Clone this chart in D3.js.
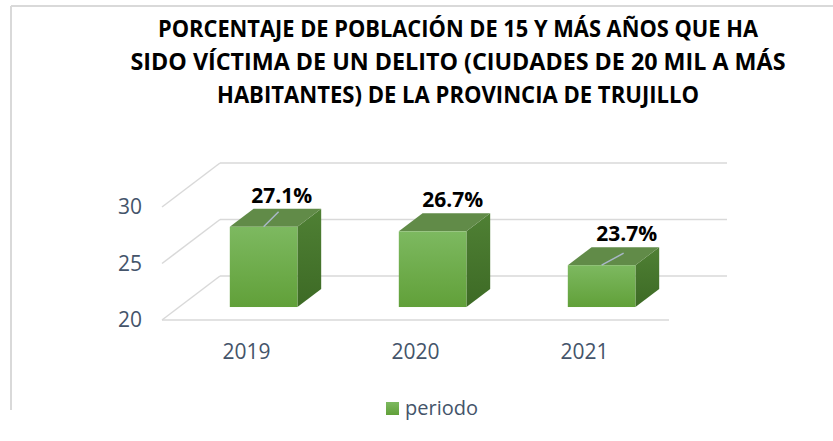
<!DOCTYPE html>
<html>
<head>
  <style type="text/css">
    body { margin: 0; background: #fff; }
    text { font-family: "Open Sans", sans-serif; }
    .grid line { stroke: #d9d9d9; stroke-width: 1.5px; }
    .axis text { fill: #44546a; font-size: 21px; }
  </style>
</head>
<body>
<svg></svg>
<script src="https://d3js.org/d3.v7.min.js"></script>
<script>
    var width = 833;
    var height = 441;

    /* data */
    var years = ['2019', '2020', '2021'];
    var values = [27.1, 26.7, 23.7];
    var yTicks = [20, 25, 30];
    var seriesName = 'periodo';
    var titleLines = [
      'PORCENTAJE DE POBLACIÓN DE 15 Y MÁS AÑOS QUE HA',
      'SIDO VÍCTIMA DE UN DELITO (CIUDADES DE 20 MIL A MÁS',
      'HABITANTES) DE LA PROVINCIA DE TRUJILLO'
    ];

    // depth of the 3d box and the bar slab inside it
    var depthX = 58, depthY = -44;
    var barD0 = 0.295, barD1 = 0.705;

    var svg = d3.select('svg')
      .attr('width', width)
      .attr('height', height);

    var defs = svg.append('defs');
    var gFront = defs.append('linearGradient').attr('id', 'front')
      .attr('x1', 0).attr('y1', 0).attr('x2', 0).attr('y2', 1);
    gFront.append('stop').attr('offset', '0%').attr('stop-color', '#7db960');
    gFront.append('stop').attr('offset', '100%').attr('stop-color', '#61a039');
    var gSide = defs.append('linearGradient').attr('id', 'side')
      .attr('x1', 0).attr('y1', 0).attr('x2', 0).attr('y2', 1);
    gSide.append('stop').attr('offset', '0%').attr('stop-color', '#4f8034');
    gSide.append('stop').attr('offset', '100%').attr('stop-color', '#3d6a25');

    // frame
    svg.append('line').attr('x1', 11).attr('y1', 6).attr('x2', width).attr('y2', 6)
      .attr('stroke', '#d9d9d9').attr('stroke-width', 2);
    svg.append('line').attr('x1', 11).attr('y1', 6).attr('x2', 11).attr('y2', 410)
      .attr('stroke', '#d9d9d9').attr('stroke-width', 2);

    // title
    var titleWidths = [600, 655, 482];
    svg.append('g').selectAll('text')
      .data(titleLines)
      .enter()
      .append('text')
      .attr('x', 458)
      .attr('y', function(d, i) { return 37 + i * 33; })
      .attr('text-anchor', 'middle')
      .attr('font-weight', 'bold')
      .attr('font-size', '23px')
      .attr('fill', '#000')
      .attr('textLength', function(d, i) { return titleWidths[i]; })
      .attr('lengthAdjust', 'spacingAndGlyphs')
      .text(function(d) { return d; });

    var x = d3.scaleBand()
      .domain(years)
      .range([162, 669])
      .paddingInner(0.6)
      .paddingOuter(0.3);
    var xCat = d3.scaleBand().domain(years).range([162, 669]);

    var y = d3.scaleLinear()
      .domain([20, 30])
      .range([320, 207]);

    // grid: back wall lines, left side lines, floor front
    var grid = svg.append('g').attr('class', 'grid');
    grid.selectAll('.back')
      .data(yTicks)
      .enter()
      .append('line')
      .attr('x1', 162 + depthX).attr('x2', 669 + depthX)
      .attr('y1', function(d) { return y(d) + depthY; })
      .attr('y2', function(d) { return y(d) + depthY; });
    grid.selectAll('.side')
      .data(yTicks)
      .enter()
      .append('line')
      .attr('x1', 162).attr('x2', 162 + depthX)
      .attr('y1', function(d) { return y(d); })
      .attr('y2', function(d) { return y(d) + depthY; });
    grid.append('line')
      .attr('x1', 162).attr('x2', 669)
      .attr('y1', y(20)).attr('y2', y(20));

    // y labels
    var yAxis = svg.append('g').attr('class', 'axis');
    yAxis.selectAll('text')
      .data(yTicks)
      .enter()
      .append('text')
      .attr('x', 142)
      .attr('y', function(d) { return y(d); })
      .attr('dy', '0.35em')
      .attr('text-anchor', 'end')
      .text(function(d) { return d; });

    // x labels
    var xAxis = svg.append('g').attr('class', 'axis');
    xAxis.selectAll('text')
      .data(years)
      .enter()
      .append('text')
      .attr('x', function(d) { return xCat(d) + xCat.bandwidth() / 2; })
      .attr('y', 352)
      .attr('dy', '0.35em')
      .attr('text-anchor', 'middle')
      .text(function(d) { return d; });

    // bars
    svg.append('g').selectAll('g')
      .data(years)
      .enter()
      .append('g')
      .each(function(d, i) {
        var g = d3.select(this);
        var fx = x(d) + depthX * barD0;
        var fy0 = y(20) + depthY * barD0;
        var fy1 = y(values[i]) + depthY * barD0;
        var w = x.bandwidth();
        var ddx = depthX * (barD1 - barD0);
        var ddy = depthY * (barD1 - barD0);
        // side
        g.append('path')
          .attr('d', 'M' + (fx + w) + ',' + fy1 + 'L' + (fx + w + ddx) + ',' + (fy1 + ddy) +
            'L' + (fx + w + ddx) + ',' + (fy0 + ddy) + 'L' + (fx + w) + ',' + fy0 + 'Z')
          .attr('fill', 'url(#side)');
        // top
        g.append('path')
          .attr('d', 'M' + fx + ',' + fy1 + 'L' + (fx + ddx) + ',' + (fy1 + ddy) +
            'L' + (fx + w + ddx) + ',' + (fy1 + ddy) + 'L' + (fx + w) + ',' + fy1 + 'Z')
          .attr('fill', '#618b48');
        // front
        g.append('rect')
          .attr('x', fx).attr('y', fy1)
          .attr('width', w).attr('height', fy0 - fy1)
          .attr('fill', 'url(#front)');
      });

    // value labels, with leader lines where nudged
    var labelNudge = [[15, -15, true], [20, -21, false], [22, -12, true]];
    years.forEach(function(d, i) {
      var cx = x(d) + depthX * barD0 + x.bandwidth() / 2;
      var ty = y(values[i]) + depthY * barD0;
      var n = labelNudge[i];
      if (n[2]) {
        svg.append('line')
          .attr('x1', cx).attr('y1', ty)
          .attr('x2', cx + n[0]).attr('y2', ty + n[1])
          .attr('stroke', '#a9b7c8').attr('stroke-width', 1.5);
      }
      svg.append('text')
        .attr('x', cx + (i === 1 ? 20 : n[0] + 3))
        .attr('y', ty - 24)
        .attr('text-anchor', 'middle')
        .attr('font-weight', 'bold')
        .attr('font-size', '21px')
        .attr('fill', '#000')
        .text(d3.format('.1f')(values[i]) + '%');
    });

    // legend
    var legend = svg.append('g');
    legend.append('rect')
      .attr('x', 386).attr('y', 402)
      .attr('width', 13).attr('height', 13)
      .attr('fill', 'url(#front)');
    legend.append('text')
      .attr('x', 405).attr('y', 408)
      .attr('dy', '0.35em')
      .attr('font-size', '20px')
      .attr('fill', '#44546a')
      .text(seriesName);
</script>
</body>
</html>
